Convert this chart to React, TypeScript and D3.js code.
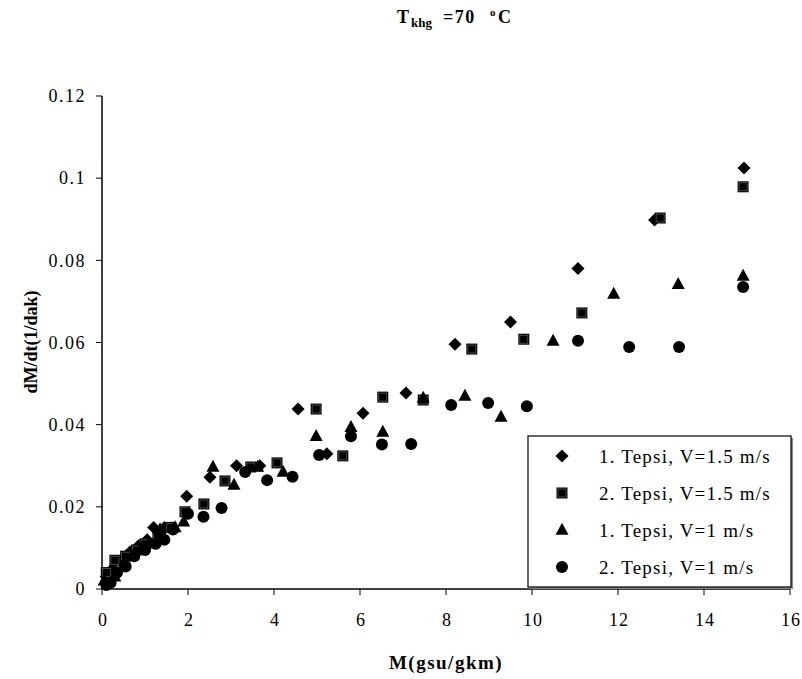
import React from "react";
import * as d3 from "d3";

const xTicks = [0, 2, 4, 6, 8, 10, 12, 14, 16];
const yTicks = [0, 0.02, 0.04, 0.06, 0.08, 0.1, 0.12];

const seriesNames = [
  "1. Tepsi, V=1.5 m/s",
  "2. Tepsi, V=1.5 m/s",
  "1. Tepsi, V=1 m/s",
  "2. Tepsi, V=1 m/s",
];
const seriesShapes = ["diamond", "square", "triangle", "circle"];

const s1x = [0.1, 0.25, 0.45, 0.65, 0.85, 1.05, 1.2, 1.45, 1.97, 2.51, 3.13, 3.67, 4.56, 5.23, 6.07, 7.07, 8.21, 9.5, 11.07, 12.85, 14.93];
const s1y = [0.003, 0.005, 0.007, 0.009, 0.0105, 0.012, 0.015, 0.015, 0.0226, 0.0272, 0.03, 0.03, 0.0438, 0.0329, 0.0428, 0.0477, 0.0596, 0.065, 0.078, 0.0898, 0.1025];

const s2x = [0.1, 0.3, 0.55, 0.8, 1.0, 1.3, 1.6, 1.93, 2.37, 2.86, 3.46, 4.07, 4.98, 5.6, 6.53, 7.47, 8.6, 9.81, 11.16, 12.98, 14.91];
const s2y = [0.004, 0.007, 0.008, 0.0095, 0.011, 0.0125, 0.015, 0.0188, 0.0207, 0.0263, 0.0297, 0.0307, 0.0438, 0.0324, 0.0467, 0.046, 0.0584, 0.0608, 0.0672, 0.0903, 0.0979];

const s3x = [0.05, 0.3, 0.5, 0.7, 0.9, 1.1, 1.35, 1.7, 1.9, 2.58, 3.07, 3.62, 4.21, 4.98, 5.79, 6.53, 7.47, 8.44, 9.28, 10.49, 11.9, 13.4, 14.91];
const s3y = [0.002, 0.003, 0.006, 0.008, 0.0095, 0.011, 0.0145, 0.015, 0.0164, 0.0297, 0.0253, 0.0297, 0.0285, 0.0372, 0.0394, 0.0382, 0.0465, 0.047, 0.0419, 0.0604, 0.0718, 0.0742, 0.0762];

const s4x = [0.1, 0.2, 0.35, 0.55, 0.75, 1.0, 1.25, 1.45, 1.65, 2.0, 2.36, 2.78, 3.33, 3.84, 4.43, 5.05, 5.79, 6.51, 7.19, 8.12, 8.98, 9.88, 11.07, 12.26, 13.42, 14.91];
const s4y = [0.001, 0.0015, 0.004, 0.0055, 0.008, 0.0095, 0.011, 0.012, 0.0145, 0.0183, 0.0176, 0.0197, 0.0285, 0.0265, 0.0273, 0.0326, 0.0372, 0.0352, 0.0353, 0.0448, 0.0453, 0.0445, 0.0604, 0.0589, 0.0589, 0.0735];

const seriesX = [s1x, s2x, s3x, s4x];
const seriesY = [s1y, s2y, s3y, s4y];

const FONT = "Liberation Serif, Times New Roman, Tinos, DejaVu Serif, serif";

function Marker({ shape, x, y }: { shape: string; x: number; y: number }) {
  if (shape === "diamond") {
    const r = 6.5;
    return <path d={`M${x},${y - r}L${x + r},${y}L${x},${y + r}L${x - r},${y}Z`} fill="#000" />;
  }
  if (shape === "square") {
    const s = 11;
    return (
      <g>
        <rect x={x - s / 2} y={y - s / 2} width={s} height={s} fill="#000" />
        <rect x={x - s / 2 + 1.5} y={y - s / 2 + 1.5} width={s - 3} height={s - 3} fill="#000" stroke="#666" strokeWidth={0.7} />
      </g>
    );
  }
  if (shape === "triangle") {
    const w = 13, h = 12;
    return <path d={`M${x},${y - h * 0.6}L${x + w / 2},${y + h * 0.4}L${x - w / 2},${y + h * 0.4}Z`} fill="#000" />;
  }
  return <circle cx={x} cy={y} r={6} fill="#000" />;
}

export default function App() {
  const W = 802, H = 679;
  const left = 102, right = 790, top = 96, bottom = 589;
  const x = d3.scaleLinear().domain([0, 16]).range([left, right]);
  const y = d3.scaleLinear().domain([0, 0.12]).range([bottom, top]);

  const legX = 528, legY = 436, legW = 263, legH = 151;
  const rowYs = [456, 493, 530, 567];
  const ts = { fontFamily: FONT };

  return (
    <svg width={W} height={H} style={{ position: "absolute", left: 0, top: 0, background: "#fff", fontFamily: FONT }}>
      <rect x={0} y={0} width={W} height={H} fill="#fff" />
      {/* title */}
      <text y={23} fontSize={18} fontWeight="bold" style={ts}>
        <tspan x={397}>T</tspan>
        <tspan x={411} fontSize={13} dy={4}>khg</tspan>
        <tspan x={443} dy={-4} letterSpacing={1.5}>=70</tspan>
        <tspan x={490} fontSize={11} dy={-7}>o</tspan>
        <tspan x={498} dy={7}>C</tspan>
      </text>

      {/* axes */}
      <line x1={left} y1={top} x2={left} y2={bottom} stroke="#000" strokeWidth={1.5} />
      <line x1={left} y1={bottom} x2={right} y2={bottom} stroke="#000" strokeWidth={1.5} />
      {yTicks.map((t) => (
        <g key={"y" + t}>
          <line x1={left - 6} x2={left} y1={y(t)} y2={y(t)} stroke="#000" strokeWidth={1} />
          <text x={86} y={y(t)} dy="0.35em" textAnchor="end" fontSize={18} letterSpacing={1.5} style={ts}>
            {String(t)}
          </text>
        </g>
      ))}
      {xTicks.map((t) => (
        <g key={"x" + t}>
          <line x1={x(t)} x2={x(t)} y1={bottom} y2={bottom + 6} stroke="#000" strokeWidth={1} />
          <text x={x(t) + 1} y={626} textAnchor="middle" fontSize={18} letterSpacing={1} style={ts}>
            {String(t)}
          </text>
        </g>
      ))}

      <text x={446} y={669} textAnchor="middle" fontSize={19} fontWeight="bold" letterSpacing={1.5} style={ts}>M(gsu/gkm)</text>
      <text transform={`translate(37,342) rotate(-90)`} textAnchor="middle" fontSize={18} fontWeight="bold" style={ts}>dM/dt(1/dak)</text>

      {/* points */}
      {seriesX.map((xs, si) => (
        <g key={"s" + si}>
          {xs.map((v, i) => (
            <Marker key={i} shape={seriesShapes[si]} x={x(v)} y={y(seriesY[si][i])} />
          ))}
        </g>
      ))}

      {/* legend */}
      <rect x={legX + 2} y={legY + 2} width={legW} height={legH} fill="#888" />
      <rect x={legX} y={legY} width={legW} height={legH} fill="#fff" stroke="#000" strokeWidth={1.2} />
      {seriesNames.map((n, i) => (
        <g key={"l" + i}>
          <Marker shape={seriesShapes[i]} x={562} y={rowYs[i]} />
          <text x={599} y={rowYs[i]} dy="0.35em" fontSize={19} letterSpacing={1.2} style={ts}>{n}</text>
        </g>
      ))}
    </svg>
  );
}
